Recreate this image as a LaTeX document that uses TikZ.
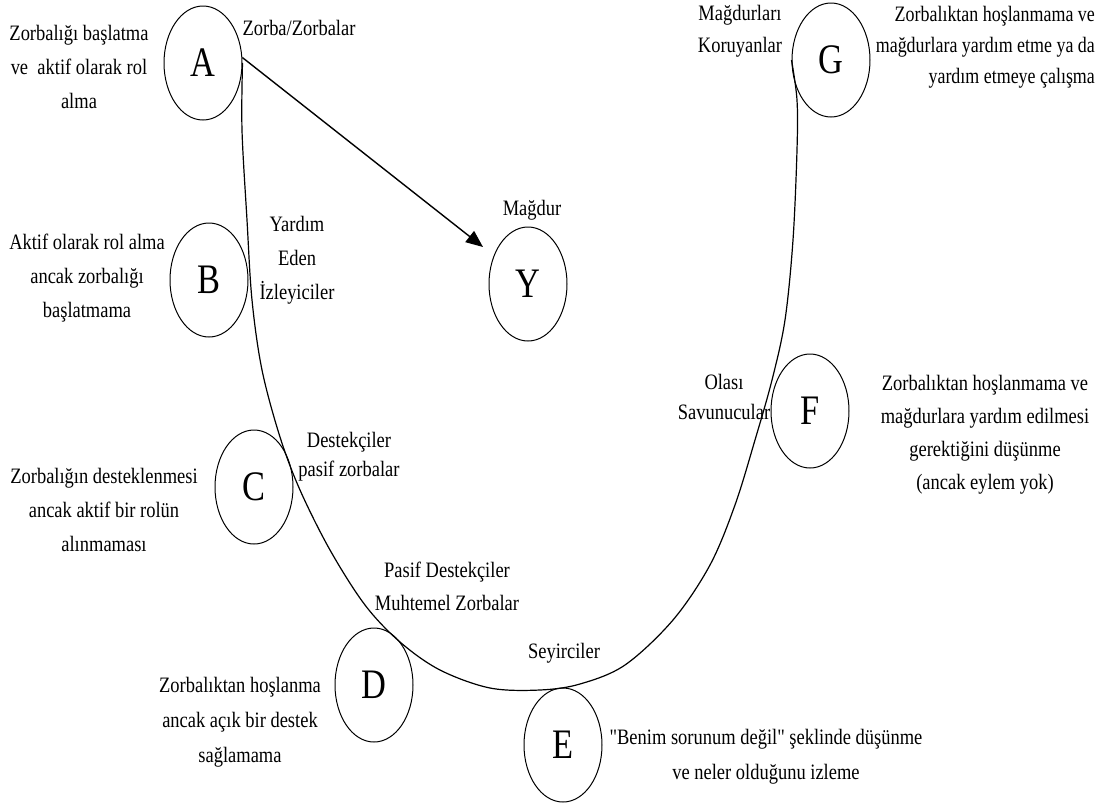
\documentclass[tikz,border=0pt]{standalone}
\usepackage{fontspec}
\setmainfont{Liberation Serif}[Ligatures=TeXOff]
\usetikzlibrary{shapes.geometric,arrows.meta}
\newcommand{\rolelet}[1]{\scalebox{0.86}[1.05]{#1}}
\begin{document}
\begin{tikzpicture}[x=1pt,y=-1pt,
  role/.style={draw, ellipse, minimum width=78pt, minimum height=114pt, inner sep=0pt, line width=1pt, font=\fontsize{40}{44}\selectfont},
  lbl/.style={align=center, inner sep=0pt, xscale=0.84, font=\fontsize{22}{34}\selectfont},
  curveline/.style={line width=1.2pt},
  arr/.style={line width=1.4pt, -{Triangle[length=17pt,width=14pt]}}]
\useasboundingbox[fill=white] (0,0) rectangle (1120,807);
% role circles
\node[role] (A) at (203,63) {\rolelet{A}};
\node[role] (B) at (209,280) {\rolelet{B}};
\node[role] (Y) at (528,284) {\rolelet{Y}};
\node[role] (C) at (254,487) {\rolelet{C}};
\node[role] (D) at (374,685) {\rolelet{D}};
\node[role] (E) at (563,745) {\rolelet{E}};
\node[role] (F) at (810,411) {\rolelet{F}};
\node[role] (G) at (831,60) {\rolelet{G}};
% labels
\node[lbl] (tA) at (79,67) {Zorbalığı başlatma\\ve\ \ aktif olarak rol\\alma};
\node[lbl] (nA) at (299,28) {Zorba/Zorbalar};
\node[lbl] (tB) at (87,278) {Aktif olarak rol alma\\ancak zorbalığı\\başlatmama};
\node[lbl] (nB) at (297,260) {Yardım\\Eden\\İzleyiciler};
\node[lbl] (nY) at (532,210) {Mağdur};
\node[lbl, font=\fontsize{22}{29}\selectfont] (nC) at (349,457) {Destekçiler\\pasif zorbalar};
\node[lbl] (tC) at (104,510) {Zorbalığın desteklenmesi\\ancak aktif bir rolün\\alınmaması};
\node[lbl, font=\fontsize{22}{33}\selectfont] (nD) at (447,586) {Pasif Destekçiler\\Muhtemel Zorbalar};
\node[lbl, font=\fontsize{22}{35}\selectfont] (tD) at (240,722) {Zorbalıktan hoşlanma\\ancak açık bir destek\\sağlamama};
\node[lbl] (nE) at (564,653) {Seyirciler};
\node[lbl, font=\fontsize{22}{35}\selectfont] (tE) at (766,757) {"Benim sorunum değil" şeklinde düşünme\\ve neler olduğunu izleme};
\node[lbl, font=\fontsize{22}{30}\selectfont] (nF) at (724,397) {Olası\\Savunucular};
\node[lbl, font=\fontsize{22}{33}\selectfont] (tF) at (985,435) {Zorbalıktan hoşlanmama ve\\mağdurlara yardım edilmesi\\gerektiğini düşünme\\(ancak eylem yok)};
\node[lbl, font=\fontsize{22}{32}\selectfont] (nG) at (740,31) {Mağdurları\\Koruyanlar};
\node[lbl, xscale=0.97, align=right, anchor=east, font=\fontsize{22}{31}\selectfont] (tG) at (1095,47) {Zorbalıktan hoşlanmama ve\\mağdurlara yardım etme ya da\\yardım etmeye çalışma};
% the U-shaped continuum
\draw[curveline] plot[smooth, tension=0.55] coordinates {(A.east) (242,130) (247,220) (252,300) (262,370) (280,437) (300,490) (330,550) (365,605) (400,642) (440,670) (490,688) (540,690) (580,684) (625,665) (673,620) (710,565) (735,505) (755,440) (772,380) (785,320) (793,240) (797,150) (797,100) (G.west)};
% arrow from bully to victim
\coordinate (tipY) at (483,247);
\draw[arr] (A.8) -- (tipY);
\end{tikzpicture}
\end{document}
